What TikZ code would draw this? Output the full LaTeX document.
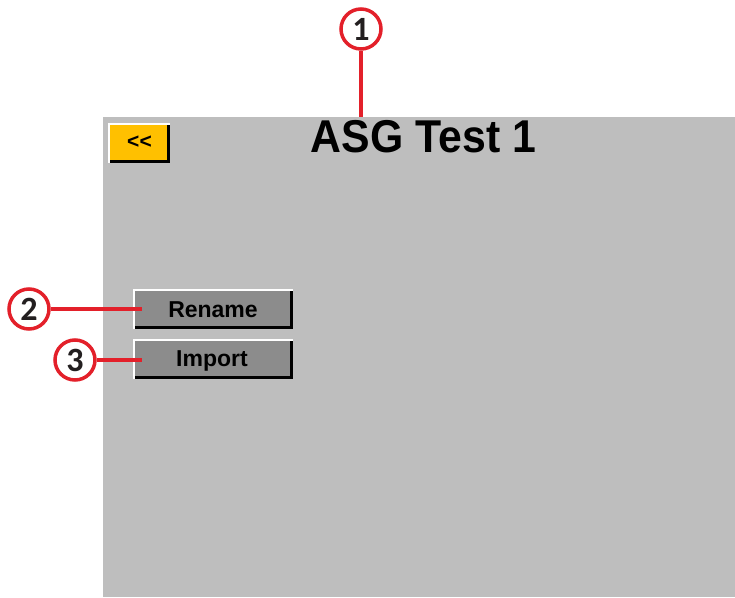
\documentclass[tikz,border=0pt]{standalone}
\usepackage{fontspec}
\setmainfont{Liberation Sans}
\newfontfamily\callfont{Carlito}
\definecolor{panel}{HTML}{BEBEBE}
\definecolor{btn}{HTML}{8C8C8C}
\definecolor{gold}{HTML}{FFC000}
\definecolor{callred}{HTML}{E3202A}
\definecolor{ink}{HTML}{231F20}
\tikzset{
  callout/.style={circle, draw=callred, line width=3.5pt, fill=white, minimum size=40pt, inner sep=0pt,
    font=\callfont\bfseries\fontsize{34}{34}\selectfont, text=ink},
  leader/.style={draw=callred, line width=3.5pt},
  btnlabel/.style={font=\bfseries\fontsize{23}{23}\selectfont, inner sep=0pt, anchor=base}
}
\begin{document}
\begin{tikzpicture}[x=1pt,y=-1pt]
\useasboundingbox (0,0) rectangle (735,597);
% panel
\fill[panel] (103,117) rectangle (735,597);
% back button
\fill[white] (108,123) rectangle (170,163);
\fill[black] (110,125) rectangle (170,163);
\fill[gold] (110,125) rectangle (167,160);
\node[font=\bfseries\fontsize{21}{21}\selectfont, inner sep=0pt] (back) at (139.5,142.5) {<{}<};
% title
\node[font=\bfseries\fontsize{46}{46}\selectfont, inner sep=0pt, xscale=0.93, anchor=base] (title) at (423.5,152) {ASG Test 1};
% Rename button
\fill[white] (133,289) rectangle (293,329);
\fill[black] (135,291) rectangle (293,329);
\fill[btn] (135,291) rectangle (290,326);
\node[btnlabel] (rename) at (213,317) {Rename};
\coordinate (renameL) at (142,309);
% Import button
\fill[white] (133,339) rectangle (293,379);
\fill[black] (135,341) rectangle (293,379);
\fill[btn] (135,341) rectangle (290,376);
\node[btnlabel] (import) at (212,366.5) {Import};
\coordinate (importL) at (142,360);
% callouts
\coordinate (titletop) at (361,117);
\node[callout] (c1) at (361,29) {1};
\draw[leader] (c1.south) -- (titletop);
\node[callout] (c2) at (29,309) {2};
\draw[leader] (c2.east) -- (renameL);
\node[callout] (c3) at (75,360) {3};
\draw[leader] (c3.east) -- (importL);
\end{tikzpicture}
\end{document}
